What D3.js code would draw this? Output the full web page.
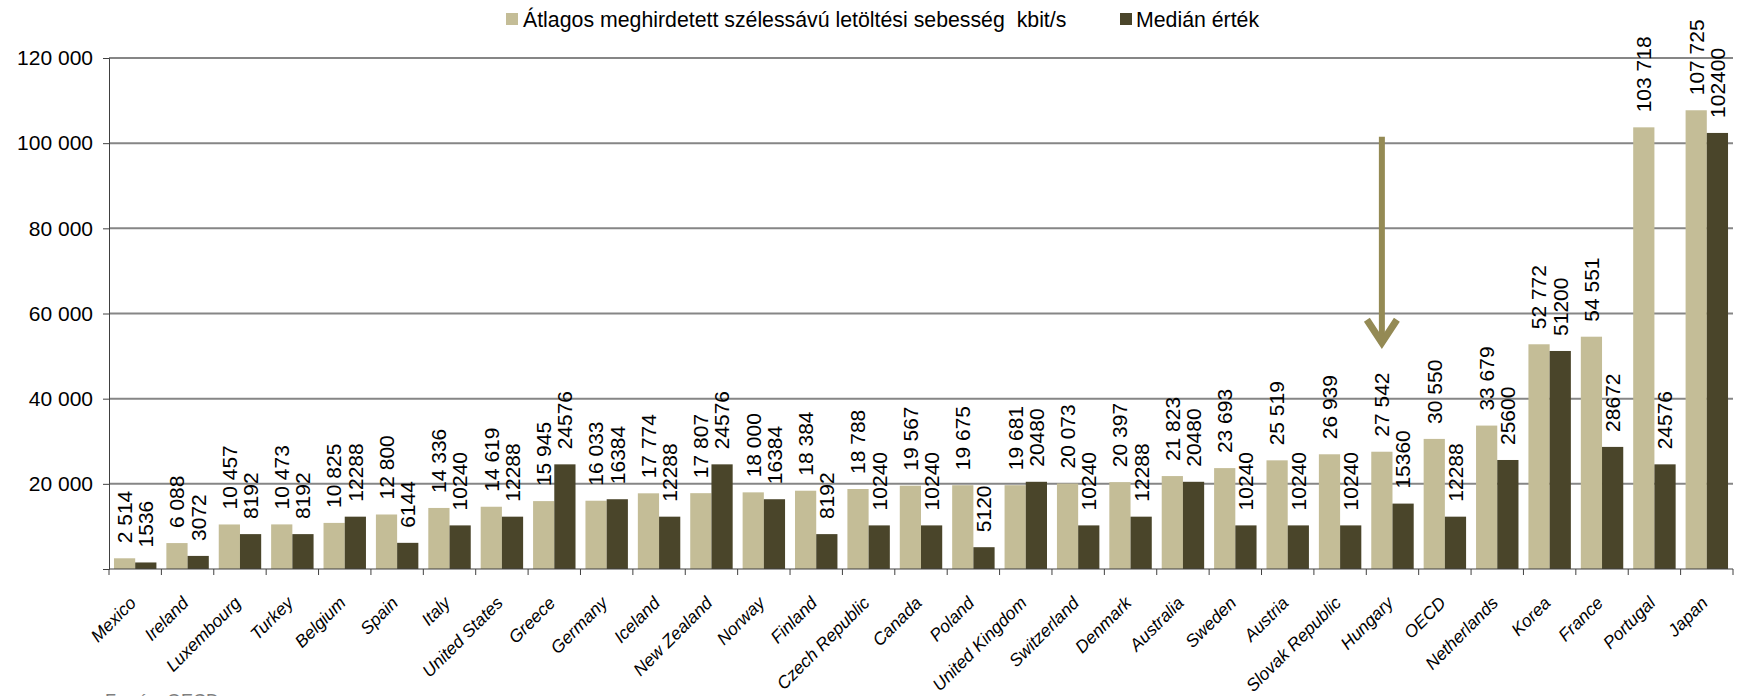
<!DOCTYPE html>
<html>
<head>
<meta charset="utf-8">
<script src="https://cdn.jsdelivr.net/npm/d3@7"></script>
<style>
  body { margin: 0; background: #fff; }
  text { font-family: "Liberation Sans", Arial, sans-serif; }
</style>
</head>
<body>
<svg id="chart" width="1739" height="696"></svg>
<script>
// Advertised broadband download speeds by country (kbit/s)
const categories = ["Mexico", "Ireland", "Luxembourg", "Turkey", "Belgium", "Spain", "Italy",
  "United States", "Greece", "Germany", "Iceland", "New Zealand", "Norway", "Finland",
  "Czech Republic", "Canada", "Poland", "United Kingdom", "Switzerland", "Denmark",
  "Australia", "Sweden", "Austria", "Slovak Republic", "Hungary", "OECD", "Netherlands",
  "Korea", "France", "Portugal", "Japan"];

const averageSpeed = [2514, 6088, 10457, 10473, 10825, 12800, 14336, 14619, 15945, 16033,
  17774, 17807, 18000, 18384, 18788, 19567, 19675, 19681, 20073, 20397, 21823, 23693,
  25519, 26939, 27542, 30550, 33679, 52772, 54551, 103718, 107725];

const medianSpeed = [1536, 3072, 8192, 8192, 12288, 6144, 10240, 12288, 24576, 16384,
  12288, 24576, 16384, 8192, 10240, 10240, 5120, 20480, 10240, 12288, 20480, 10240,
  10240, 10240, 15360, 12288, 25600, 51200, 28672, 24576, 102400];

const seriesNames = ["Átlagos meghirdetett szélessávú letöltési sebesség  kbit/s", "Medián érték"];
const yTicks = [0, 20000, 40000, 60000, 80000, 100000, 120000];

// Pointer to the Hungarian average (from / to, in kbit/s)
const highlightCategory = "Hungary";
const arrowRange = [101500, 52200];

const sourceNote = "Forrás: OECD";

const colors = ["#C4BD97", "#4A452A"];
const arrowColor = "#948A54";

const svg = d3.select("#chart");
const plotLeft = 109, plotRight = 1733, plotTop = 58, plotBottom = 569;

const x = d3.scaleBand().domain(categories).range([plotLeft, plotRight])
  .paddingInner(0.19).paddingOuter(0.095);
const xs = d3.scaleBand().domain([0, 1]).range([0, x.bandwidth()]);
const y = d3.scaleLinear().domain([0, 120000]).range([plotBottom, plotTop]);

const huLocale = d3.formatLocale({ decimal: ",", thousands: " ", grouping: [3], currency: ["", ""] });
const fmtSpaced = huLocale.format(",d");
const fmtPlain = d3.format("d");

// Horizontal gridlines
svg.append("g").selectAll("line")
  .data(yTicks.filter(t => t > 0))
  .join("line")
  .attr("x1", plotLeft).attr("x2", plotRight)
  .attr("y1", d => y(d)).attr("y2", d => y(d))
  .attr("stroke", "#868686").attr("stroke-width", 2);

// Y axis
const yAxis = svg.append("g")
  .attr("transform", `translate(${plotLeft},0)`)
  .call(d3.axisLeft(y).tickValues(yTicks).tickSize(6).tickPadding(10)
    .tickFormat(d => d === 0 ? "" : fmtSpaced(d)));
yAxis.select(".domain").attr("stroke", "#404040");
yAxis.selectAll(".tick line").attr("stroke", "#404040");
yAxis.selectAll(".tick text")
  .attr("font-size", 21).attr("fill", "#000")
  .style("font-family", "'Liberation Sans', Arial, sans-serif");

// Bars
const series = [averageSpeed, medianSpeed];
const barGroups = svg.append("g");
series.forEach((vals, si) => {
  barGroups.append("g").selectAll("rect")
    .data(categories.map((c, i) => ({ c, v: vals[i] })))
    .join("rect")
    .attr("x", d => x(d.c) + xs(si))
    .attr("width", xs.bandwidth())
    .attr("y", d => y(d.v))
    .attr("height", d => y(0) - y(d.v))
    .attr("fill", colors[si]);
});

// Value labels above each bar
series.forEach((vals, si) => {
  const fmt = si === 0 ? fmtSpaced : fmtPlain;
  svg.append("g").selectAll("text")
    .data(categories.map((c, i) => ({ c, v: vals[i] })))
    .join("text")
    .attr("transform", d => `translate(${x(d.c) + xs(si) + xs.bandwidth() / 2},${y(d.v) - 15}) rotate(-90)`)
    .attr("dy", "0.35em")
    .attr("text-anchor", "start")
    .attr("font-size", 21)
    .attr("fill", "#000")
    .text(d => fmt(d.v));
});

// Category axis: baseline and ticks between categories
const step = x.step();
const bounds = categories.map(c => x(c) - step * x.paddingInner() / 2);
bounds.push(plotRight);
svg.append("line")
  .attr("x1", plotLeft).attr("x2", plotRight).attr("y1", plotBottom).attr("y2", plotBottom)
  .attr("stroke", "#404040").attr("stroke-width", 1.2);
svg.append("g").selectAll("line")
  .data(bounds)
  .join("line")
  .attr("x1", d => d).attr("x2", d => d)
  .attr("y1", plotBottom).attr("y2", plotBottom + 6)
  .attr("stroke", "#404040");

svg.append("g").selectAll("text")
  .data(categories)
  .join("text")
  .attr("transform", d => `translate(${x(d) + x.bandwidth() / 2 + 2},${plotBottom + 35}) rotate(-45)`)
  .attr("text-anchor", "end")
  .attr("font-size", 17.5)
  .attr("font-style", "italic")
  .attr("fill", "#000")
  .text(d => d);

// Arrow pointing at the highlighted country's average
const ax = x(highlightCategory) + xs(0) + xs.bandwidth() / 2;
const tipY = y(arrowRange[1]);
svg.append("line")
  .attr("x1", ax).attr("x2", ax)
  .attr("y1", y(arrowRange[0])).attr("y2", tipY - 3)
  .attr("stroke", arrowColor).attr("stroke-width", 6);
svg.append("polyline")
  .attr("points", `${ax - 15},${tipY - 27} ${ax},${tipY - 4} ${ax + 15},${tipY - 27}`)
  .attr("fill", "none")
  .attr("stroke", arrowColor).attr("stroke-width", 7)
  .attr("stroke-linejoin", "miter");

// Legend
const legendItems = [{ x: 506, tx: 523 }, { x: 1120, tx: 1136 }];
const legend = svg.append("g");
legendItems.forEach((p, i) => {
  legend.append("rect").attr("x", p.x).attr("y", 13).attr("width", 12).attr("height", 12)
    .attr("fill", colors[i]);
  legend.append("text").attr("x", p.tx).attr("y", 27)
    .attr("font-size", 21.3).attr("fill", "#000")
    .style("white-space", "pre")
    .text(seriesNames[i]);
});

// Source note
svg.append("text")
  .attr("x", 105).attr("y", 707)
  .attr("font-size", 18).attr("fill", "#7f7f7f")
  .text(sourceNote);
</script>
</body>
</html>
